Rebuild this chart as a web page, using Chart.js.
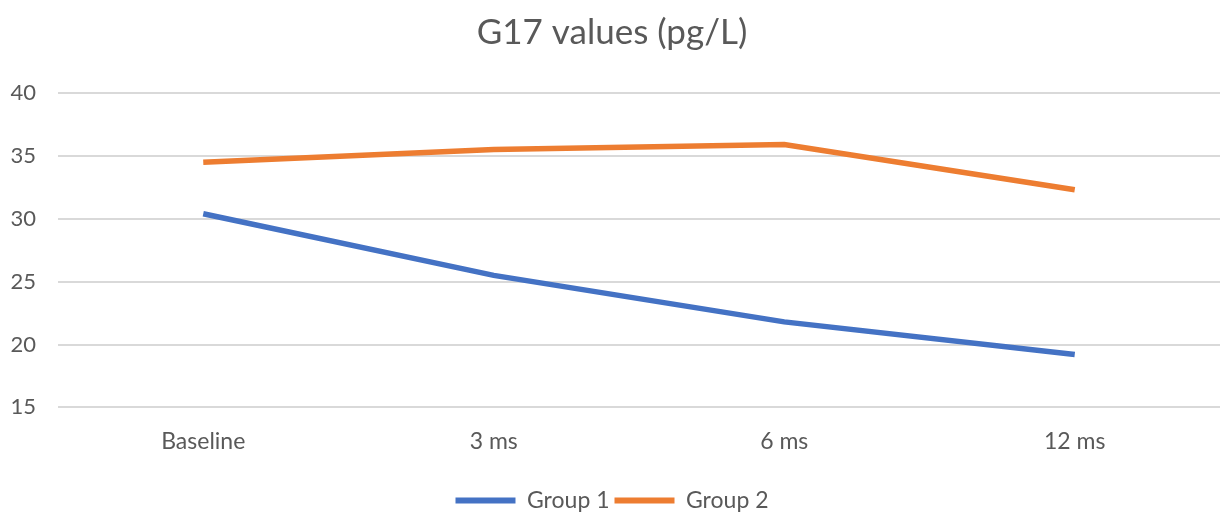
<!DOCTYPE html>
<html>
<head>
<meta charset="utf-8">
<script src="https://cdn.jsdelivr.net/npm/chart.js@4"></script>
<style>
  html, body { margin: 0; padding: 0; background: #fff; }
  #wrap { width: 1224px; height: 513px; }
</style>
</head>
<body>
<div id="wrap"><canvas id="g17Chart"></canvas></div>
<script>
var labels = ['Baseline', '3 ms', '6 ms', '12 ms'];
var group1 = [30.4, 25.5, 21.8, 19.2];
var group2 = [34.5, 35.5, 35.9, 32.3];
var yTicks = [15, 20, 25, 30, 35, 40];

var textColor = '#595959';
Chart.defaults.font.family = 'Lato, "Open Sans", sans-serif';
Chart.defaults.color = textColor;

new Chart('g17Chart', {
    type: 'line',
    data: {
        labels: labels,
        datasets: [{
            label: 'Group 1',
            data: group1,
            borderColor: '#4472C4',
            backgroundColor: '#4472C4',
            borderWidth: 5.5,
            pointRadius: 0,
            tension: 0
        }, {
            label: 'Group 2',
            data: group2,
            borderColor: '#ED7D31',
            backgroundColor: '#ED7D31',
            borderWidth: 5.5,
            pointRadius: 0,
            tension: 0
        }]
    },
    options: {
        responsive: true,
        maintainAspectRatio: false,
        animation: false,
        layout: { padding: { left: 4, right: 4, top: 0, bottom: -9 } },
        plugins: {
            title: {
                display: true,
                text: 'G17 values (pg/L)',
                font: { size: 35, weight: 'normal' },
                color: textColor,
                padding: { top: 12, bottom: 39 }
            },
            legend: {
                position: 'bottom',
                labels: {
                    boxWidth: 60,
                    boxHeight: 6,
                    font: { size: 23 },
                    padding: 5,
                    generateLabels: function (chart) {
                        return chart.data.datasets.map(function (ds, i) {
                            return {
                                text: ds.label,
                                fillStyle: ds.borderColor,
                                strokeStyle: ds.borderColor,
                                lineWidth: 0,
                                datasetIndex: i,
                                fontColor: textColor
                            };
                        });
                    }
                }
            },
            tooltip: { enabled: false }
        },
        scales: {
            x: {
                offset: true,
                grid: { display: false, drawTicks: false },
                border: { display: false },
                ticks: { font: { size: 23 }, padding: 20 },
                afterFit: function (axis) { axis.height += 9; }
            },
            y: {
                min: 15,
                max: 40,
                afterBuildTicks: function (axis) {
                    axis.ticks = yTicks.map(function (v) { return { value: v }; });
                },
                afterFit: function (axis) { axis.width = 54; },
                grid: { color: '#d9d9d9', lineWidth: 2, drawTicks: false },
                border: { display: false },
                ticks: { font: { size: 22 }, padding: 22 }
            }
        }
    }
});
</script>
</body>
</html>
